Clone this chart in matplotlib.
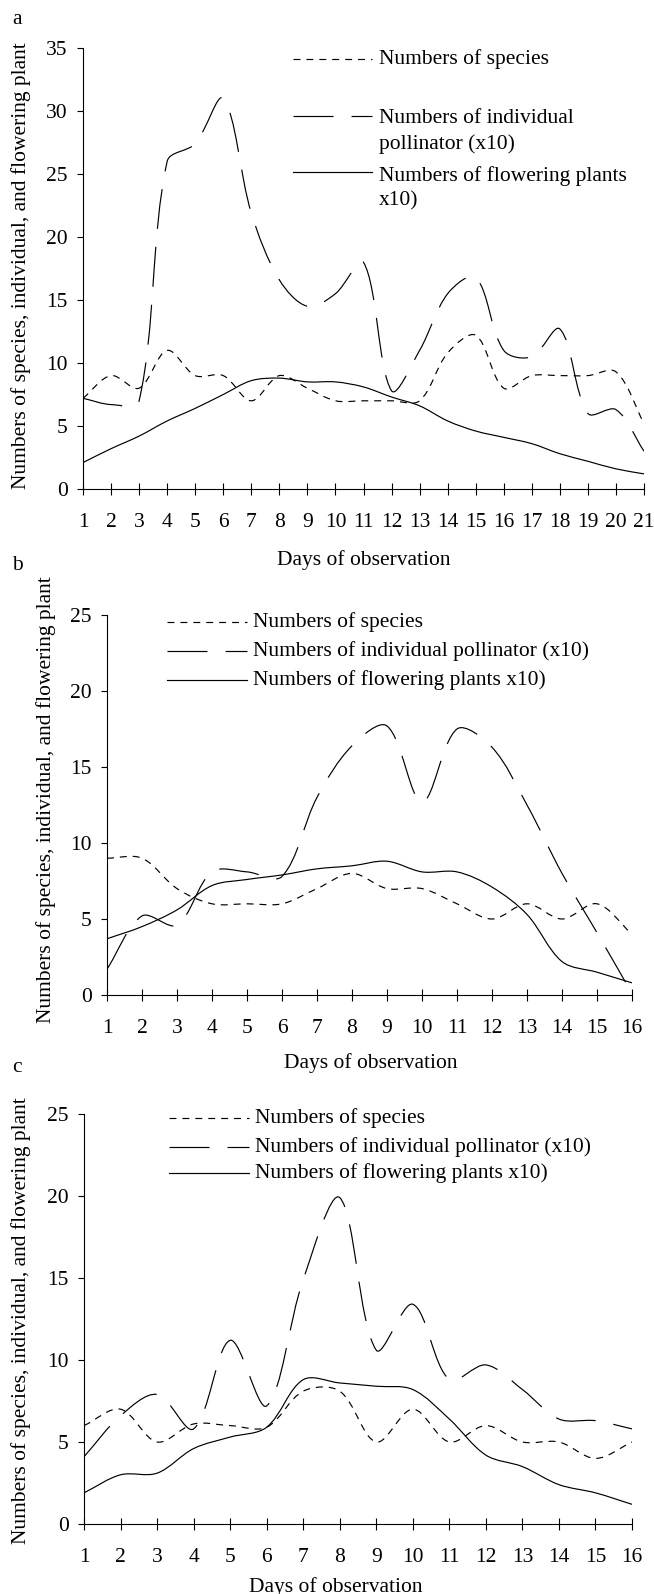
import numpy as np
import matplotlib
matplotlib.use("Agg")
import matplotlib.pyplot as plt
from matplotlib.path import Path
from matplotlib.patches import PathPatch
from matplotlib.lines import Line2D

plt.rcParams["font.family"] = ["Liberation Serif", "DejaVu Serif"]
plt.rcParams["font.size"] = 15.5
plt.rcParams["lines.scale_dashes"] = False

# figure size in pixels (dpi 100)
W, H = 654, 1594

# panel a: 21 days
days_a = list(range(1, 22))
species_a = [7.2, 9.0, 8.0, 11.0, 9.0, 9.0, 7.0, 9.0, 8.0, 7.0, 7.0,
             7.0, 7.0, 10.8, 12.2, 8.0, 9.0, 9.0, 9.0, 9.3, 5.2]
pollinator_a = [7.2, 6.7, 7.0, 26.0, 27.4, 31.0, 21.9, 16.6, 14.5, 15.5, 18.0,
                7.8, 11.0, 15.5, 16.8, 11.0, 10.5, 12.7, 6.0, 6.3, 3.0]
flowering_a = [2.1, 3.2, 4.2, 5.4, 6.4, 7.5, 8.6, 8.8, 8.5, 8.5, 8.1,
               7.3, 6.6, 5.4, 4.6, 4.1, 3.6, 2.8, 2.2, 1.6, 1.2]

# panel b: 16 days
days_b = list(range(1, 17))
species_b = [9.0, 9.0, 7.0, 6.0, 6.0, 6.0, 7.0, 8.0, 7.0, 7.0, 6.0, 5.0, 6.0, 5.0, 6.0, 4.0]
pollinator_b = [1.7, 5.2, 4.6, 8.1, 8.1, 7.8, 13.0, 16.4, 17.7, 12.7, 17.5, 16.3, 12.5, 8.0, 4.1, 0.1]
flowering_b = [3.7, 4.5, 5.6, 7.2, 7.6, 7.9, 8.3, 8.5, 8.8, 8.1, 8.1, 7.1, 5.3, 2.2, 1.5, 0.8]

# panel c: 16 days
days_c = list(range(1, 17))
species_c = [6.0, 7.0, 5.0, 6.1, 6.0, 5.9, 8.1, 8.1, 5.0, 7.0, 5.0, 6.0, 5.0, 5.0, 4.0, 5.0]
pollinator_c = [4.1, 6.6, 7.9, 5.8, 11.2, 7.2, 14.9, 19.9, 10.6, 13.4, 8.8, 9.7, 8.2, 6.4, 6.3, 5.8]
flowering_c = [1.9, 3.0, 3.1, 4.6, 5.3, 5.9, 8.8, 8.6, 8.4, 8.2, 6.4, 4.2, 3.5, 2.4, 1.9, 1.2]

LABEL_SPECIES = "Numbers of species"
LABEL_POLL = "Numbers of individual pollinator (x10)"
LABEL_FLOW = "Numbers of flowering plants x10)"
YLABEL = "Numbers of species, individual, and flowering plant"
XLABEL = "Days of observation"

DASH_SPECIES = (0, (5.0, 4.3))
DASH_POLL = (0, (28.8, 13.0))
LW = 0.85


def px(x, y):
    """pixel position -> figure fraction"""
    return x / W, 1 - y / H


def smooth_path(x, y, sx, sy):
    """Excel-like smoothed line: cubic Bezier segments, control points
    weighted by on-screen chord length (sx, sy = pixels per data unit)."""
    x = np.asarray(x, float)
    y = np.asarray(y, float)
    n = len(x)
    d = np.hypot(np.diff(x) * sx, np.diff(y) * sy)
    verts = [(x[0], y[0])]
    codes = [Path.MOVETO]
    for i in range(n - 1):
        a = i - 1 if i > 0 else i
        b = i + 2 if i + 2 < n else i + 1
        d0 = d[i - 1] if i > 0 else 0.0
        d2 = d[i + 1] if i + 2 < n else 0.0
        k1 = d[i] / (3 * (d0 + d[i]))
        k2 = d[i] / (3 * (d[i] + d2))
        c1 = (x[i] + (x[i + 1] - x[a]) * k1, y[i] + (y[i + 1] - y[a]) * k1)
        c2 = (x[i + 1] - (x[b] - x[i]) * k2, y[i + 1] - (y[b] - y[i]) * k2)
        verts += [c1, c2, (x[i + 1], y[i + 1])]
        codes += [Path.CURVE4] * 3
    return Path(verts, codes)


def add_curve(ax, x, y, ls):
    bb = ax.get_position()
    x0, x1 = ax.get_xlim()
    y0, y1 = ax.get_ylim()
    sx = bb.width * W / (x1 - x0)
    sy = bb.height * H / (y1 - y0)
    ax.add_patch(PathPatch(smooth_path(x, y, sx, sy), fill=False, edgecolor="black",
                           lw=LW, linestyle=ls, capstyle="butt"))


def make_axes(fig, left, right, bottom, top, days, ymax):
    x0, y0 = px(left, bottom)
    x1, y1 = px(right, top)
    ax = fig.add_axes([x0, y0, x1 - x0, y1 - y0])
    ax.set_xlim(days[0], days[-1])
    ax.set_ylim(0, ymax)
    ax.set_xticks(days)
    ax.set_yticks(range(0, ymax + 1, 5))
    ax.spines["top"].set_visible(False)
    ax.spines["right"].set_visible(False)
    for s in ("left", "bottom"):
        ax.spines[s].set_linewidth(0.8)
    ax.tick_params(axis="x", direction="inout", length=9, width=0.8, pad=12.5)
    ax.tick_params(axis="y", direction="out", length=4.5, width=0.8, pad=6.5)
    return ax


def draw_key(fig, x0, x1, xt, rows):
    # rows: (line y, text y, linestyle, text)
    for yl, yt, ls, txt in rows:
        fig.add_artist(Line2D([x0 / W, x1 / W], [1 - yl / H, 1 - yl / H],
                              transform=fig.transFigure, color="black",
                              lw=LW, linestyle=ls, dash_capstyle="butt"))
        fig.text(xt / W, 1 - yt / H, txt, ha="left", va="center", linespacing=1.4)


fig = plt.figure(figsize=(W / 100, H / 100), dpi=100)

# ---- panel a
ax_a = make_axes(fig, 83, 644, 489, 48, days_a, 35)
add_curve(ax_a, days_a, species_a, DASH_SPECIES)
add_curve(ax_a, days_a, pollinator_a, DASH_POLL)
add_curve(ax_a, days_a, flowering_a, "-")
draw_key(fig, 293, 372, 379, [
    (59, 59, DASH_SPECIES, LABEL_SPECIES),
    (116, 131.5, DASH_POLL, "Numbers of individual\npollinator (x10)"),
    (172, 188.5, "-", "Numbers of flowering plants\nx10)"),
])

# ---- panel b
ax_b = make_axes(fig, 107, 632, 995, 615, days_b, 25)
add_curve(ax_b, days_b, species_b, DASH_SPECIES)
add_curve(ax_b, days_b, pollinator_b, DASH_POLL)
add_curve(ax_b, days_b, flowering_b, "-")
draw_key(fig, 167, 247, 253, [
    (622, 622, DASH_SPECIES, LABEL_SPECIES),
    (651, 651, DASH_POLL, LABEL_POLL),
    (680, 680, "-", LABEL_FLOW),
])

# ---- panel c
ax_c = make_axes(fig, 84, 632, 1524, 1114, days_c, 25)
add_curve(ax_c, days_c, species_c, DASH_SPECIES)
add_curve(ax_c, days_c, pollinator_c, DASH_POLL)
add_curve(ax_c, days_c, flowering_c, "-")
draw_key(fig, 169, 249, 255, [
    (1118, 1118, DASH_SPECIES, LABEL_SPECIES),
    (1147, 1147, DASH_POLL, LABEL_POLL),
    (1173, 1173, "-", LABEL_FLOW),
])

# panel letters, axis titles
for letter, (lx, ly) in zip("abc", [(17, 19), (17, 566), (17, 1068)]):
    fig.text(*px(lx, ly), letter, ha="center", va="center")

for (cx, cy) in [(364, 560), (371, 1063), (336, 1587)]:
    fig.text(*px(cx, cy), XLABEL, ha="center", va="center")

for (cx, cy) in [(21, 266), (46, 800), (21, 1321)]:
    fig.text(*px(cx, cy), YLABEL, ha="center", va="center", rotation=90)

fig.savefig("out.png", dpi=100)
